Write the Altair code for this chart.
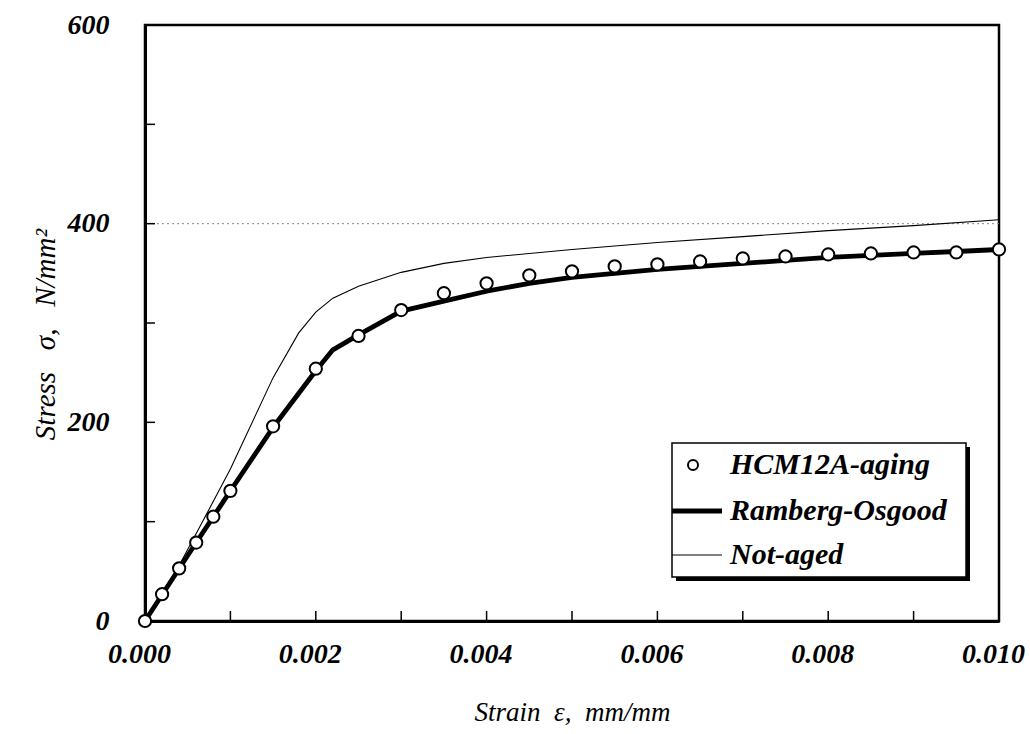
import altair as alt
import pandas as pd

# Stress-strain data for HCM12A steel (aged), its Ramberg-Osgood fit, and the not-aged curve
aged_strain = [0.0, 0.0002, 0.0004, 0.0006, 0.0008, 0.0010, 0.0015, 0.0020, 0.0025,
               0.0030, 0.0035, 0.0040, 0.0045, 0.0050, 0.0055, 0.0060, 0.0065,
               0.0070, 0.0075, 0.0080, 0.0085, 0.0090, 0.0095, 0.0100]
aged_stress = [0, 27, 53, 79, 105, 131, 196, 254, 287,
               313, 330, 340, 348, 352, 357, 359, 362,
               365, 367, 369, 370, 371, 371, 374]

ro_strain = [0.0, 0.0005, 0.0010, 0.0015, 0.0020, 0.0022, 0.0025, 0.0030, 0.0035, 0.0040,
             0.0045, 0.0050, 0.0055, 0.0060, 0.0065, 0.0070, 0.0075, 0.0080, 0.0085,
             0.0090, 0.0095, 0.0100]
ro_stress = [0, 66, 131, 195, 252, 273, 288, 312, 322, 332,
             340, 346, 350, 354, 357, 360, 363, 366, 368,
             370, 372, 374]

na_strain = [0.0, 0.0003, 0.0006, 0.0010, 0.0015, 0.0018, 0.0020, 0.0022, 0.0025, 0.0030,
             0.0035, 0.0040, 0.0050, 0.0060, 0.0070, 0.0080, 0.0090, 0.0100]
na_stress = [0, 40, 88, 153, 245, 290, 311, 325, 337, 351,
             360, 366, 374, 381, 387, 393, 398, 404]

ref_stress = [400]

x_label_values = [0.0, 0.002, 0.004, 0.006, 0.008, 0.010]
y_label_values = [0, 200, 400, 600]
x_tick_values = [0.001, 0.002, 0.003, 0.004, 0.005, 0.006, 0.007, 0.008, 0.009]
y_tick_values = [100, 200, 300, 400, 500]

SERIES = ["HCM12A-aging", "Ramberg-Osgood", "Not-aged"]
FONT = "Liberation Serif"
W, H = 854, 596

pts = pd.DataFrame({"strain": aged_strain, "stress": aged_stress})
ro = pd.DataFrame({"strain": ro_strain, "stress": ro_stress, "k": range(len(ro_strain))})
na = pd.DataFrame({"strain": na_strain, "stress": na_stress, "k": range(len(na_strain))})
one = pd.DataFrame({"a": [0]})

xscale = alt.Scale(domain=[0, 0.01], nice=False, zero=False)
yscale = alt.Scale(domain=[0, 600], nice=False, zero=False)

x_axis = alt.Axis(values=x_label_values, format=".3f",
                  title="Strain\u00a0\u00a0ε,\u00a0\u00a0mm/mm",
                  labelPadding=19, labelOffset=-6, titleX=427, titleY=91,
                  titleBaseline="middle", titleAlign="center")
y_axis = alt.Axis(values=y_label_values, format="d",
                  title="Stress\u00a0\u00a0\u00a0σ,\u00a0\u00a0\u00a0N/mm²",
                  labelPadding=36, titleX=-100, titleY=309, titleAngle=270,
                  titleFontSize=29, titleBaseline="middle", titleAlign="center")

X = alt.X("strain:Q", scale=xscale, axis=x_axis)
Y = alt.Y("stress:Q", scale=yscale, axis=y_axis)

ref_line = alt.Chart(pd.DataFrame({"stress": ref_stress})).mark_rule(
    color="#888888", strokeWidth=1, strokeDash=[2, 3]
).encode(y=Y)

na_line = alt.Chart(na).mark_line(color="black", strokeWidth=1.1).encode(x=X, y=Y, order="k:Q")
ro_line = alt.Chart(ro).mark_line(color="black", strokeWidth=4.8, strokeJoin="round").encode(
    x=X, y=Y, order="k:Q")

points = alt.Chart(pts).mark_point(
    filled=True, fill="white", stroke="black", strokeWidth=2, size=150, opacity=1
).encode(x=X, y=Y)

x_ticks = alt.Chart(pd.DataFrame({"strain": x_tick_values})).mark_rule(
    color="black", strokeWidth=1.5
).encode(x=X, y=alt.value(H), y2=alt.value(H - 10))

y_ticks = alt.Chart(pd.DataFrame({"stress": y_tick_values})).mark_rule(
    color="black", strokeWidth=1.5
).encode(y=Y, x=alt.value(0), x2=alt.value(10))

# legend box (pixel layout inside the plot area) with a drop shadow
LX0, LX1, LY0, LY1 = 527, 821, 418, 552
ROWS = [440, 486, 530]
SYM_X0, SYM_X1, TEXT_X = LX0, LX0 + 50, LX0 + 58

shadow = alt.Chart(one).mark_rect(color="black").encode(
    x=alt.value(LX0 + 4), x2=alt.value(LX1 + 4), y=alt.value(LY0 + 4), y2=alt.value(LY1 + 4))
frame = alt.Chart(one).mark_rect(fill="white", stroke="black", strokeWidth=1.5).encode(
    x=alt.value(LX0), x2=alt.value(LX1), y=alt.value(LY0), y2=alt.value(LY1))

leg_marker = alt.Chart(one).mark_point(
    filled=True, fill="white", stroke="black", strokeWidth=2, size=100, opacity=1
).encode(x=alt.value(SYM_X0 + 21), y=alt.value(ROWS[0]))
leg_ro = alt.Chart(one).mark_rule(color="black", strokeWidth=4.8).encode(
    x=alt.value(SYM_X0), x2=alt.value(SYM_X1), y=alt.value(ROWS[1]))
leg_na = alt.Chart(one).mark_rule(color="black", strokeWidth=1.1).encode(
    x=alt.value(SYM_X0), x2=alt.value(SYM_X1), y=alt.value(ROWS[2]))

leg_text = [
    alt.Chart(one).mark_text(
        text=label, align="left", baseline="middle", font=FONT, fontSize=30,
        fontStyle="italic", fontWeight="bold", color="black",
    ).encode(x=alt.value(TEXT_X), y=alt.value(row))
    for label, row in zip(SERIES, ROWS)
]

chart = alt.layer(
    ref_line, na_line, ro_line, points, x_ticks, y_ticks,
    shadow, frame, leg_marker, leg_ro, leg_na, *leg_text
).properties(
    width=W, height=H,
    autosize=alt.AutoSizeParams(type="none"),
    padding={"left": 145, "top": 25, "right": 1030 - 145 - W, "bottom": 734 - 25 - H},
    background="white",
).configure_view(
    stroke="black", strokeWidth=2.5
).configure_axis(
    grid=False, ticks=False, domainColor="black", domainWidth=3,
    labelFont=FONT, labelFontSize=28, labelFontStyle="italic", labelFontWeight="bold",
    labelColor="black", labelFlush=False, labelOverlap=False,
    titleFont=FONT, titleFontSize=27, titleFontStyle="italic", titleFontWeight="normal",
    titleColor="black",
)

chart.save("out.html", embed_options={"renderer": "svg", "actions": False})
